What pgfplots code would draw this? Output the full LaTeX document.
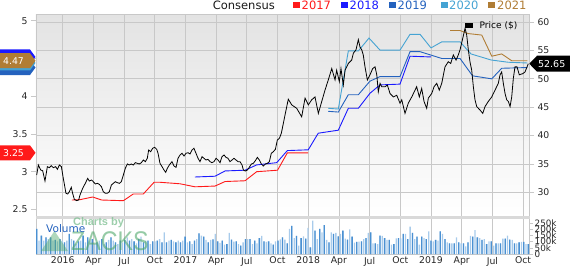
\documentclass[border=0pt]{standalone}
\usepackage{pgfplots}
\pgfplotsset{compat=1.18}
\usepackage{pgfplotstable}
\usepackage{fontspec}
\setmainfont{DejaVu Sans}
\newfontfamily\wm{Liberation Sans}
\definecolor{cA}{HTML}{FF1A1A}
\definecolor{cB}{HTML}{1A1AFF}
\definecolor{cC}{HTML}{2462BE}
\definecolor{cD}{HTML}{45A3D3}
\definecolor{cE}{HTML}{B07D35}
\definecolor{gridc}{HTML}{C8C8C8}
\definecolor{bgtop}{HTML}{E3E3E3}
\definecolor{volD}{HTML}{4A90D2}
\definecolor{volL}{HTML}{A8CBEB}
\definecolor{zgreen}{HTML}{4FA86A}

\pgfplotstableread{
m p
-2.54 33.05
-2.38 34.81
-2.15 33.93
-1.96 33.81
-1.73 31.99
-1.50 34.52
-1.31 34.34
-1.11 34.69
-0.92 34.34
-0.69 34.52
-0.52 34.05
-0.33 34.81
-0.13 34.52
0.06 32.46
0.32 29.82
0.49 29.70
0.65 30.11
0.84 30.88
0.97 29.82
1.14 28.76
1.37 28.53
1.56 28.65
1.69 29.53
1.95 30.70
2.21 31.58
2.44 32.46
2.60 31.99
2.83 32.17
2.99 31.87
3.19 31.46
3.39 31.58
3.58 31.40
3.78 31.00
3.97 30.11
4.17 29.82
4.36 29.82
4.56 30.11
4.76 31.29
4.95 31.58
5.15 31.87
5.34 31.70
5.54 31.58
5.73 31.87
5.93 33.05
6.12 34.23
6.32 34.99
6.51 34.81
6.71 34.99
6.90 34.81
7.10 35.22
7.30 35.10
7.49 34.99
7.69 35.22
7.88 35.69
8.08 35.40
8.27 35.99
8.40 37.45
8.60 37.16
8.79 37.75
8.99 37.92
9.19 37.57
9.32 36.87
9.51 35.10
9.71 34.52
9.90 33.93
10.07 33.52
10.23 34.23
10.42 34.81
10.68 35.40
10.88 34.63
11.08 34.40
11.27 35.99
11.47 36.57
11.66 36.87
11.86 36.40
12.05 36.87
12.25 36.98
12.44 36.75
12.64 37.45
12.83 37.75
13.03 36.87
13.23 35.99
13.42 35.40
13.62 36.28
13.81 35.99
14.01 35.69
14.20 35.81
14.40 35.40
14.59 35.22
14.79 35.40
14.99 35.99
15.18 35.69
15.38 35.22
15.57 36.28
15.77 36.57
15.96 36.16
16.16 35.99
16.35 35.40
16.55 35.69
16.74 35.99
16.94 35.69
17.14 35.40
17.33 35.40
17.53 34.81
17.66 33.93
17.85 33.75
18.05 33.93
18.24 34.40
18.44 34.99
18.63 35.10
18.83 35.57
19.03 36.16
19.22 35.69
19.42 34.99
19.61 34.63
19.81 34.99
20.00 35.10
20.20 35.40
20.39 36.87
20.59 37.16
20.79 37.57
20.98 39.21
21.18 39.51
21.37 40.39
21.73 43.6
22.05 46.4
22.39 45.4
22.87 44.8
23.36 43.3
23.69 46.6
24.01 45.4
24.34 46.3
24.66 46.8
24.99 43.9
25.32 46.0
25.64 48.0
25.96 49.8
26.30 51.8
26.62 49.8
26.78 51.5
27.04 49.5
27.20 51.8
27.43 48.9
27.60 51.5
27.92 52.7
28.25 53.3
28.41 54.5
28.67 55.1
28.90 56.9
29.06 55.6
29.23 55.1
29.38 54.2
29.55 52.1
29.78 49.8
30.04 50.7
30.30 51.8
30.53 52.1
30.70 50.7
30.85 47.7
31.02 49.2
31.18 48.6
31.51 48.6
31.73 48.9
32.00 47.4
32.32 46.8
32.65 47.1
32.97 45.7
33.14 46.3
33.46 43.9
33.78 45.7
34.12 46.8
34.44 48.0
34.60 48.6
34.86 46.8
35.09 48.3
35.32 46.0
35.58 44.8
35.74 46.6
36.07 47.4
36.30 48.6
36.56 49.2
36.81 48.0
37.05 49.2
37.37 52.1
37.69 53.0
37.93 52.7
38.18 54.2
38.45 53.3
38.67 54.2
38.84 55.1
39.10 57.1
39.33 58.9
39.49 57.7
39.65 55.1
39.81 53.0
39.98 51.5
40.14 48.6
40.30 46.3
40.47 45.1
40.79 44.5
41.06 43.9
41.28 45.1
41.60 46.0
41.94 46.8
42.09 47.4
42.26 48.0
42.58 49.2
42.75 50.7
42.91 51.2
43.07 49.2
43.24 47.4
43.40 46.3
43.56 46.0
43.73 45.1
43.89 46.8
44.05 50.1
44.21 52.1
44.41 52.1
44.63 50.7
44.97 50.9
45.19 51.2
45.51 52.65
}\price

\pgfplotstableread{
v
204
109
149
109
136
122
136
109
114
103
122
109
95
109
163
122
109
81
103
109
149
95
136
109
122
81
95
109
122
81
95
114
136
109
95
81
109
95
114
136
109
122
103
87
122
141
95
109
109
81
103
103
109
122
95
176
95
109
114
103
95
109
95
109
141
95
103
81
109
122
168
149
141
114
95
114
119
163
103
90
109
76
81
171
117
100
103
81
68
95
122
122
122
81
109
87
130
147
103
98
103
87
76
103
109
119
136
117
87
204
228
130
147
68
130
144
125
212
54
271
190
122
204
176
236
114
95
176
163
171
144
163
190
125
117
201
141
92
98
100
103
122
130
171
176
87
87
81
149
147
130
114
114
76
81
128
130
128
163
163
122
223
171
122
141
76
141
130
122
185
109
103
114
109
185
163
122
95
87
87
87
136
95
87
87
62
95
147
141
195
136
130
114
122
81
103
103
68
87
87
87
125
125
149
117
114
87
87
95
98
98
81
81
}\vol

\newcommand{\ltag}[3]{%
  \fill[#1] (axis cs:-2.61,#2) ++(-0.5pt,0pt) -- ++(-5.5pt,7.5pt) -- ++(-30pt,0pt) -- ++(0pt,-15pt) -- ++(30pt,0pt) -- cycle;
  \node[text=white, inner sep=0pt, font=\fontsize{9.3}{10}\selectfont] at (axis cs:-2.61,#2) [xshift=-22.5pt] {#3};}

\begin{document}
\begin{tikzpicture}[x=1pt,y=1pt]
\path[use as bounding box] (0,0) rectangle (570,266);

% background / grid / right price scale
\begin{axis}[
  at={(36pt,49pt)}, anchor=south west, scale only axis,
  width=493pt, height=203pt,
  xmin=-2.61, xmax=45.58, ymin=25.65, ymax=61.41,
  axis background/.style={top color=bgtop, bottom color=white},
  axis line style={gridc, line width=0.8pt},
  xtick={0,3,...,45}, xticklabel=\empty, xtick style={draw=none},
  ytick={30,35,...,60}, ytick pos=right, yticklabel pos=right,
  ytick style={gridc, line width=0.8pt}, tick align=outside, major tick length=5pt,
  grid=major, grid style={gridc, line width=0.8pt},
  tick label style={font=\fontsize{9.3}{10}\selectfont, text=black!85},
  /pgf/number format/assume math mode=true,
]
\end{axis}

% consensus (left scale)
\begin{axis}[
  at={(36pt,49pt)}, anchor=south west, scale only axis,
  width=493pt, height=203pt,
  xmin=-2.61, xmax=45.58, ymin=2.40, ymax=5.089,
  axis x line=none, axis y line*=left, y axis line style={draw=none},
  ytick={2.5,3,3.5,4,4.5,5}, yticklabels={2.5,3,3.5,4,,5},
  ytick style={gridc, line width=0.8pt}, tick align=outside, major tick length=5pt,
  tick label style={font=\fontsize{9.3}{10}\selectfont, text=black!85},
  /pgf/number format/assume math mode=true,
  clip mode=individual,
]
\addplot[cA, line width=0.9pt] coordinates {(0.9,2.625) (1.7,2.63) (2.93,2.665) (3.81,2.625) (5.93,2.616) (6.90,2.705) (7.88,2.705) (8.93,2.86) (9.51,2.86) (11.47,2.84) (12.93,2.80) (14.89,2.81) (15.87,2.87) (17.82,2.88) (18.96,3.0) (21.0,3.02) (21.96,3.25) (24.0,3.25)};
\addplot[cB, line width=0.9pt] coordinates {(12.93,2.93) (14.89,2.94) (15.87,3.01) (17.82,3.02) (18.96,3.09) (20.92,3.12) (21.96,3.28) (24.0,3.29) (24.98,3.51) (26.94,3.55) (27.92,3.84) (28.9,3.84) (30.04,4.04) (31.02,4.15) (32.97,4.16) (33.95,4.53) (36.0,4.52)};
\addplot[cC, line width=0.9pt] coordinates {(25.96,3.80) (26.94,3.79) (27.92,4.02) (28.9,4.02) (30.04,4.20) (31.02,4.26) (32.97,4.26) (33.95,4.59) (34.93,4.59) (37.05,4.50) (38.84,4.50) (40.06,4.27) (41.94,4.23) (42.91,4.37) (45.43,4.38)};
\addplot[cD, line width=0.9pt] coordinates {(25.96,3.84) (26.94,3.83) (27.92,4.60) (28.9,4.60) (29.94,4.77) (31.02,4.61) (32.97,4.61) (33.95,4.82) (34.93,4.82) (36.0,4.64) (37.05,4.72) (38.84,4.72) (39.91,4.56) (41.87,4.48) (43.53,4.45) (45.43,4.44)};
\addplot[cE, line width=0.9pt] coordinates {(37.86,4.87) (38.84,4.87) (39.62,4.83) (40.96,4.81) (41.94,4.53) (42.91,4.56) (43.89,4.47) (45.43,4.47)};
\ltag{cC}{4.38}{}
\ltag{cD}{4.44}{}
\ltag{cB}{4.52}{}
\ltag{cE}{4.47}{4.47}
\ltag{cA}{3.25}{3.25}
\end{axis}

% price (right scale)
\begin{axis}[
  at={(36pt,49pt)}, anchor=south west, scale only axis,
  width=493pt, height=203pt,
  xmin=-2.61, xmax=45.58, ymin=25.65, ymax=61.41,
  hide axis, clip mode=individual,
]
\addplot[black, line width=0.8pt] table[x=m, y=p] {\price};
\fill[black] (axis cs:45.58,52.65) ++(0.3pt,0pt) -- ++(7.7pt,8pt) -- ++(33pt,0pt) -- ++(0pt,-16pt) -- ++(-33pt,0pt) -- cycle;
\node[text=white, inner sep=0pt, font=\fontsize{9.5}{10}\selectfont] at (axis cs:45.58,52.65) [xshift=22.7pt] {52.65};
\end{axis}

% volume
\begin{axis}[
  at={(36pt,12pt)}, anchor=south west, scale only axis,
  width=493pt, height=36pt,
  xmin=-2.61, xmax=45.58, ymin=0, ymax=293,
  axis line style={gridc, line width=0.8pt},
  xtick={0,3,...,45},
  xticklabels={2016,Apr,Jul,Oct,2017,Apr,Jul,Oct,2018,Apr,Jul,Oct,2019,Apr,Jul,Oct},
  xtick style={draw=none}, xmajorgrids, grid style={gridc, line width=0.8pt},
  ytick={0,50,...,250}, yticklabels={0,50k,100k,150k,200k,250k},
  ytick pos=right, yticklabel pos=right,
  ytick style={gridc, line width=0.6pt}, tick align=outside, major tick length=4pt,
  tick label style={font=\fontsize{9.3}{10}\selectfont, text=black!85},
  yticklabel style={font=\fontsize{8.8}{9}\selectfont, inner sep=1.5pt},
  xticklabel style={inner sep=0pt, yshift=1.2pt},
  ybar, bar width=1.3pt,
]
\addplot[fill=volL, draw=none, bar shift=0pt] table[x expr=-2.54+0.2267*\coordindex, y=v] {\vol};
\addplot[fill=volD, draw=none, bar shift=0pt, each nth point=2, filter discard warning=false] table[x expr=-2.54+0.2267*\coordindex, y=v] {\vol};
\end{axis}

% band between panels
\fill[black!15] (36,46.8) rectangle (530,49.6);

% top legend
\node[anchor=east, inner sep=0pt, font=\fontsize{11.5}{12}\selectfont, text=black!90] at (275,261) {Consensus};
\fill[cA] (293,258) rectangle (299.5,264.5);
\node[anchor=west, inner sep=0pt, font=\fontsize{11.5}{12}\selectfont, text=cA] at (301.5,261) {2017};
\fill[cB] (341,258) rectangle (347.5,264.5);
\node[anchor=west, inner sep=0pt, font=\fontsize{11.5}{12}\selectfont, text=cB] at (349.5,261) {2018};
\fill[cC] (389,258) rectangle (395.5,264.5);
\node[anchor=west, inner sep=0pt, font=\fontsize{11.5}{12}\selectfont, text=cC] at (397.5,261) {2019};
\fill[cD] (441,258) rectangle (447.5,264.5);
\node[anchor=west, inner sep=0pt, font=\fontsize{11.5}{12}\selectfont, text=cD] at (449,261) {2020};
\fill[cE] (488,258) rectangle (494.5,264.5);
\node[anchor=west, inner sep=0pt, font=\fontsize{11.5}{12}\selectfont, text=cE] at (497,261) {2021};

% price legend
\fill[black] (464.5,238) rectangle (472.5,243.5);
\node[anchor=west, inner sep=0pt, font=\fontsize{9}{10}\selectfont] at (479.5,240.5) {Price (\$)};

% watermark and volume label
\fill[zgreen, opacity=0.45] (41,15) -- (54.5,35) -- (68,15) -- cycle;
\node[anchor=west, inner sep=0pt, font=\wm\bfseries\fontsize{11}{12}\selectfont, text=zgreen!75, opacity=0.75] at (73,43.5) {Charts by};
\node[anchor=west, inner sep=0pt, font=\wm\fontsize{27}{28}\selectfont, text=zgreen, opacity=0.6] at (71,25) {\scalebox{0.86}[1]{ZACKS}};
\node[anchor=west, inner sep=0pt, font=\fontsize{10.5}{11}\selectfont, text=cC] at (46,37) {Volume};
\end{tikzpicture}
\end{document}
